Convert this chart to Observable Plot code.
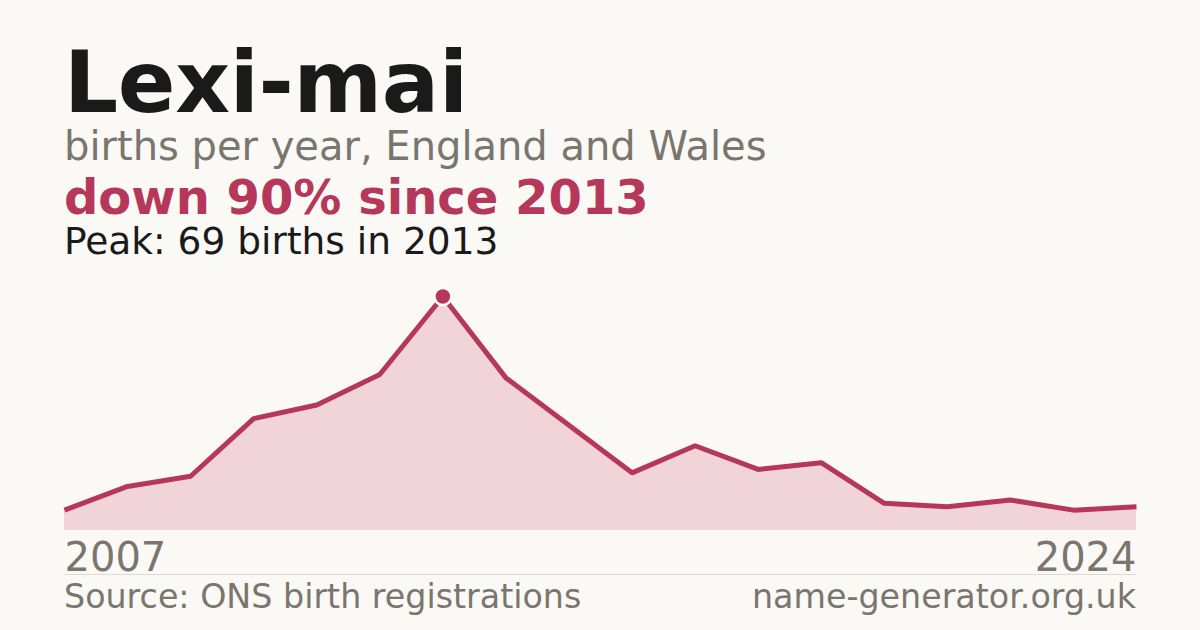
<!DOCTYPE html>
<html>
<head>
<meta charset="utf-8">
<script src="https://cdn.jsdelivr.net/npm/d3@7"></script>
<script src="https://cdn.jsdelivr.net/npm/@observablehq/plot@0.6"></script>
<style>
  html, body { margin: 0; padding: 0; background: #faf9f5; }
  body { width: 1200px; height: 630px; position: relative; overflow: hidden; font-family: "DejaVu Sans", sans-serif; }
  .t { position: absolute; left: 64px; line-height: 0.8; white-space: nowrap; }
  #title { top: 48.6px; font-size: 85px; font-weight: bold; color: #1a1a1a; letter-spacing: -0.3px; }
  #sub { top: 130.2px; font-size: 40px; color: #7a756d; }
  #change { top: 178.2px; font-size: 48px; font-weight: bold; color: #b5385a; }
  #peak { top: 226px; font-size: 37.5px; color: #1a1a1a; }
  #src { top: 584.2px; font-size: 33.3px; color: #7a756d; }
  #site { top: 584.2px; left: auto; right: 64px; font-size: 33.3px; color: #7a756d; }
  #chart { position: absolute; left: 0; top: 270px; }
</style>
</head>
<body>
<div class="t" id="title"></div>
<div class="t" id="sub"></div>
<div class="t" id="change"></div>
<div class="t" id="peak"></div>
<div id="chart"></div>
<div class="t" id="src"></div>
<div class="t" id="site"></div>
<script>
const name = "Lexi-mai";
const subtitle = "births per year, England and Wales";
const changeText = "down 90% since 2013";
const peakText = "Peak: 69 births in 2013";
const sourceText = "Source: ONS birth registrations";
const siteText = "name-generator.org.uk";

const years  = [2007, 2008, 2009, 2010, 2011, 2012, 2013, 2014, 2015, 2016, 2017, 2018, 2019, 2020, 2021, 2022, 2023, 2024];
const births = [6, 13, 16, 33, 37, 46, 69, 45, 31, 17, 25, 18, 20, 8, 7, 9, 6, 7];
const peakYear = 2013;
const firstYearLabel = [2007];
const lastYearLabel = [2024];

document.getElementById("title").textContent = name;
document.getElementById("sub").textContent = subtitle;
document.getElementById("change").textContent = changeText;
document.getElementById("peak").textContent = peakText;
document.getElementById("src").textContent = sourceText;
document.getElementById("site").textContent = siteText;

const data = years.map((y, i) => ({year: y, births: births[i]}));
const peak = data.filter(d => d.year === peakYear);

const red = "#b5385a";
const grey = "#7a756d";

const chart = Plot.plot({
  width: 1200,
  height: 350,
  marginLeft: 64,
  marginRight: 64,
  marginTop: 26,
  marginBottom: 90,
  style: {background: "transparent", fontFamily: "DejaVu Sans, sans-serif", overflow: "visible"},
  x: {domain: [2007, 2024], axis: null},
  y: {domain: [0, 69], axis: null},
  marks: [
    Plot.areaY(data, {x: "year", y: "births", fill: "#f1d4da"}),
    Plot.line(data, {x: "year", y: "births", stroke: red, strokeWidth: 5, strokeLinecap: "butt", strokeLinejoin: "miter"}),
    Plot.dot(peak, {x: "year", y: "births", r: 8.5, fill: red, stroke: "#ffffff", strokeWidth: 2.5}),
    Plot.text(firstYearLabel, {x: d => d, y: 0, text: d => String(d), textAnchor: "start", lineAnchor: "bottom", dy: 40, fontSize: 40, fill: grey}),
    Plot.text(lastYearLabel, {x: d => d, y: 0, text: d => String(d), textAnchor: "end", lineAnchor: "bottom", dy: 40, fontSize: 40, fill: grey}),
    Plot.ruleY([0], {dy: 44, stroke: "#dcd9d2", strokeWidth: 1})
  ]
});
document.getElementById("chart").appendChild(chart);
</script>
</body>
</html>
